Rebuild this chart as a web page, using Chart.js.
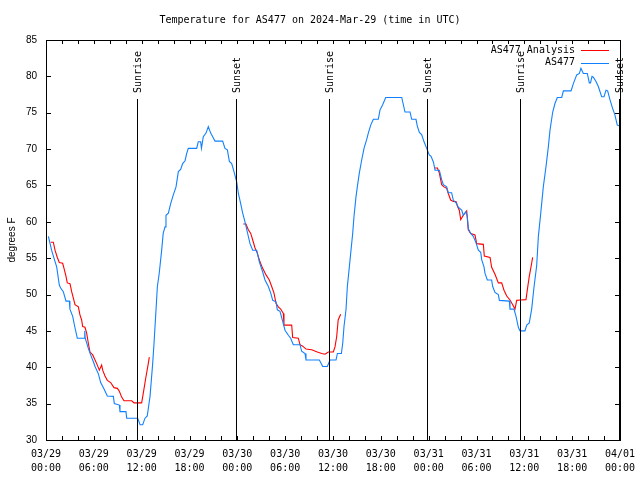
<!DOCTYPE html>
<html>
<head>
<meta charset="utf-8">
<script src="https://cdn.jsdelivr.net/npm/chart.js@4/dist/chart.umd.min.js"></script>
<style>
html,body{margin:0;padding:0;background:#fff;}
canvas{display:block;}
</style>
</head>
<body>
<canvas id="myChart" width="640" height="480"></canvas>
<script>
// 観測値 AS477 (時間は 03/29 00:00 UTC からの経過時間)
const obsHours = [0.3,0.7,1.0,1.34,1.67,1.84,2.17,2.51,2.93,3.0,3.35,3.64,3.93,4.84,4.86,4.92,5.31,5.6,5.93,6.15,6.57,6.86,7.28,7.69,8.45,8.57,9.2,9.28,10.03,10.12,11.5,11.8,12.13,12.42,12.7,13.05,13.38,13.55,13.8,13.97,14.2,14.51,14.7,14.93,15.05,15.35,15.64,15.97,16.31,16.6,16.89,17.14,17.44,17.65,17.85,18.9,19.1,19.4,19.5,19.73,20.07,20.36,20.66,20.91,21.2,22.16,22.45,22.75,23.0,23.29,23.58,23.92,24.13,24.42,24.67,24.96,25.25,25.59,25.93,26.43,26.76,27.18,27.47,27.89,28.19,28.44,28.85,29.02,29.35,29.69,29.98,30.4,30.69,31.02,31.86,32.07,32.49,32.61,34.29,34.71,35.29,35.62,36.38,36.55,37.05,37.22,37.38,37.63,37.8,38.05,38.22,38.47,38.63,38.89,39.05,39.3,39.6,39.89,40.22,40.43,40.73,41.06,41.68,41.9,42.23,42.61,44.62,45.03,45.66,45.87,46.41,46.57,46.83,47.12,47.42,47.75,48.08,48.3,48.6,48.8,49.34,49.63,49.84,50.26,50.46,50.88,51.09,51.51,51.71,52.14,52.34,52.68,52.85,52.97,53.27,53.6,53.94,54.23,54.53,54.65,54.94,55.07,55.36,55.9,56.03,56.32,56.74,56.87,58.12,58.2,58.7,58.96,59.25,59.46,60.08,60.3,60.62,60.92,61.21,61.55,61.76,62.06,62.38,62.72,63.01,63.22,63.56,63.85,64.14,64.69,64.9,65.86,66.15,66.57,66.9,67.1,67.4,67.9,68.15,68.3,68.49,68.65,68.99,69.28,69.7,69.99,70.25,70.45,70.74,71.07,71.36,71.66,71.9,72.0];
const obsTemps = [58.0,56.1,55.0,53.8,51.3,50.9,50.4,49.1,49.1,48.0,47.0,45.4,44.0,44.0,45.0,44.0,42.6,41.7,40.8,40.1,39.1,37.9,37.0,36.05,36.0,35.0,34.8,33.9,33.9,33.0,33.0,32.1,32.1,33.0,33.3,36.0,40.5,43.3,47.9,51.1,52.9,56.1,58.4,59.3,60.9,61.2,62.5,63.7,64.8,66.9,67.2,68.0,68.4,69.4,70.1,70.1,71.0,71.0,70.1,71.7,72.2,73.1,72.2,71.7,71.1,71.1,70.1,69.9,68.3,68.0,66.9,65.5,63.9,62.5,61.2,60.0,58.6,57.0,56.1,56.1,54.5,53.1,52.0,51.1,50.2,49.2,49.0,47.9,47.7,46.3,45.1,44.4,44.0,43.1,43.1,42.2,41.9,41.0,41.0,40.1,40.1,41.0,41.0,41.9,41.9,43.3,45.6,47.9,51.1,53.8,55.7,58.4,60.7,63.5,64.8,66.7,68.5,70.1,71.3,72.2,73.3,74.1,74.1,75.4,76.1,77.1,77.1,75.1,75.1,74.1,74.1,73.2,72.3,72.0,71.0,70.1,69.2,69.0,68.2,67.1,67.1,65.8,65.1,64.8,64.0,64.0,63.0,62.5,62.0,61.6,60.9,61.4,60.7,59.1,58.4,58.0,57.1,56.1,55.8,54.8,53.8,52.9,52.0,52.0,51.1,50.3,50.0,49.2,49.1,48.0,48.0,47.0,45.5,45.0,45.0,45.8,46.1,48.0,51.0,54.0,58.0,61.2,64.8,67.6,70.3,72.6,75.1,76.3,77.1,77.1,78.0,78.0,79.0,80.2,80.4,81.1,80.4,80.4,79.1,79.1,80.0,79.9,79.3,78.6,77.2,77.2,78.1,78.0,76.8,75.6,74.7,73.3,73.2,73.0];

// 解析値 AS477 Analysis (null で線を切る)
const anaHours = [0.59,0.92,1.13,1.42,1.67,2.09,2.26,2.51,2.67,3.01,3.22,3.43,3.64,4.06,4.26,4.47,4.6,4.89,5.1,5.31,5.52,5.86,6.15,6.44,6.69,6.98,7.11,7.4,7.69,8.11,8.53,8.95,9.2,9.49,9.78,10.75,11.04,12.0,12.2,12.54,12.83,12.96,18,24.75,25.08,25.38,25.68,25.93,26.22,26.5,26.84,27.18,27.6,28.01,28.31,28.6,28.85,29.14,29.44,29.77,29.85,30.82,30.94,31.65,31.86,32.2,32.61,33.33,34.03,34.58,35.0,35.41,36.04,36.25,36.46,36.65,36.96,42,48.8,49.1,49.34,49.63,49.92,50.26,50.46,50.76,51.09,51.43,51.59,51.84,52.02,52.34,52.77,52.97,53.27,53.81,54.02,54.86,54.98,55.7,55.9,56.32,56.74,57.16,57.45,57.79,58.2,58.54,58.83,59.04,59.54,60.21,60.37,60.62,60.92,61.04];
const anaTemps = [57.2,57.2,56.1,55.1,54.4,54.3,53.6,52.5,51.6,51.5,50.4,49.5,48.6,48.3,47.2,46.5,45.6,45.5,44.7,43.3,42.1,41.7,41.0,40.3,39.6,40.3,39.6,38.8,38.2,37.9,37.2,37.1,36.7,35.9,35.4,35.4,35.1,35.1,36.4,38.7,40.5,41.4,null,59.7,59.7,58.9,58.4,57.5,56.4,55.7,54.5,53.6,52.7,52.0,51.1,50.2,48.8,48.3,48.0,47.4,45.8,45.8,44.1,44.0,43.1,42.9,42.5,42.4,42.1,41.9,41.8,42.1,42.1,42.8,44.2,46.5,47.3,null,67.4,67.4,66.7,65.1,64.8,64.6,63.9,63.0,62.8,62.8,62.2,61.6,60.3,60.9,61.5,58.9,58.4,58.2,57.0,56.9,55.3,55.1,53.75,52.8,51.6,51.6,50.6,49.8,49.25,48.6,48.0,49.2,49.25,49.3,50.6,52.5,54.3,55.1];

// 日の出・日の入り
const eventHours = [11.47, 23.87, 35.54, 47.83, 59.5, 71.91];
const eventNames = ["Sunrise", "Sunset", "Sunrise", "Sunset", "Sunrise", "Sunset"];

// x軸ラベル (6時間ごと)
const tickDates = ["03/29","03/29","03/29","03/29","03/30","03/30","03/30","03/30","03/31","03/31","03/31","03/31","04/01"];
const tickTimes = ["00:00","06:00","12:00","18:00","00:00","06:00","12:00","18:00","00:00","06:00","12:00","18:00","00:00"];

const mono = "'DejaVu Sans Mono', monospace";
const sans = "'Liberation Sans', Arial, sans-serif";

const toPoints = (hs, vs) => hs.map((h, i) => ({x: h, y: vs[i]}));

// 枠・目盛り・日の出線・凡例
const decorations = {
  id: "decorations",
  afterDatasetsDraw(chart) {
    const {ctx, chartArea: a, scales: {x, y}} = chart;
    ctx.save();
    ctx.strokeStyle = "#000";
    ctx.lineWidth = 1;
    ctx.strokeRect(Math.round(a.left) + 0.5, Math.round(a.top) + 0.5, Math.round(a.right - a.left), Math.round(a.bottom - a.top));

    ctx.beginPath();
    for (let h = 0; h <= 72; h += 2) {
      const px = Math.round(x.getPixelForValue(h)) + 0.5;
      ctx.moveTo(px, a.bottom); ctx.lineTo(px, a.bottom - 4);
      ctx.moveTo(px, a.top); ctx.lineTo(px, a.top + 4);
    }
    for (let v = 30; v <= 85; v += 5) {
      const py = Math.round(y.getPixelForValue(v)) + 0.5;
      ctx.moveTo(a.left, py); ctx.lineTo(a.left + 5, py);
      ctx.moveTo(a.right, py); ctx.lineTo(a.right - 5, py);
    }
    ctx.stroke();

    ctx.font = "10px " + mono;
    ctx.fillStyle = "#000";
    eventHours.forEach((h, i) => {
      const px = Math.round(x.getPixelForValue(h)) + 0.5;
      ctx.beginPath();
      ctx.moveTo(px, a.top + 59);
      ctx.lineTo(px, a.bottom);
      ctx.stroke();
      ctx.save();
      ctx.translate(px + 1, a.top + 53);
      ctx.rotate(-Math.PI / 2);
      ctx.textAlign = "left";
      ctx.textBaseline = "middle";
      ctx.fillText(eventNames[i], 0, 0);
      ctx.restore();
    });

    // 凡例
    ctx.textAlign = "right";
    ctx.textBaseline = "middle";
    chart.data.datasets.forEach((ds, i) => {
      const ly = a.top + 10 + i * 12.5;
      ctx.fillStyle = "#000";
      ctx.fillText(ds.label, a.right - 45, ly);
      ctx.strokeStyle = ds.borderColor;
      ctx.beginPath();
      ctx.moveTo(a.right - 39, Math.round(ly) + 0.5);
      ctx.lineTo(a.right - 11, Math.round(ly) + 0.5);
      ctx.stroke();
    });
    ctx.restore();
  }
};

const ctx = document.getElementById("myChart").getContext("2d");
const myChart = new Chart(ctx, {
  type: "line",
  data: {
    datasets: [
      {
        label: "AS477 Analysis",
        data: toPoints(anaHours, anaTemps),
        borderColor: "rgb(255, 0, 0)",
        borderWidth: 1.1,
        pointRadius: 0,
        spanGaps: false,
        order: 2
      },
      {
        label: "AS477",
        data: toPoints(obsHours, obsTemps),
        borderColor: "rgb(16, 128, 255)",
        borderWidth: 1.1,
        pointRadius: 0,
        order: 1
      }
    ]
  },
  options: {
    responsive: false,
    animation: false,
    devicePixelRatio: 1,
    layout: {padding: {left: 0, right: 20, top: 0, bottom: 0}},
    plugins: {
      legend: {display: false},
      tooltip: {enabled: false},
      title: {
        display: true,
        text: "Temperature for AS477 on 2024-Mar-29 (time in UTC)",
        color: "#000",
        font: {family: mono, size: 10, weight: "normal"},
        padding: {top: 14, bottom: 14}
      }
    },
    scales: {
      x: {
        type: "linear",
        min: 0,
        max: 72,
        afterFit: (s) => { s.height = 40; s.paddingLeft = 0; s.paddingRight = 0; },
        grid: {display: false, drawTicks: false},
        border: {display: false},
        ticks: {
          stepSize: 6,
          autoSkip: false,
          maxRotation: 0,
          padding: 8,
          color: "#000",
          font: {family: mono, size: 10, lineHeight: 1.35},
          callback: (v) => {
            const i = Math.round(v / 6);
            return [tickDates[i], tickTimes[i]];
          }
        }
      },
      y: {
        min: 30,
        max: 85,
        afterFit: (s) => { s.width = 46; },
        grid: {display: false, drawTicks: false},
        border: {display: false},
        ticks: {
          stepSize: 5,
          padding: 9,
          color: "#000",
          font: {family: sans, size: 10}
        },
        title: {
          display: true,
          text: "degrees F",
          color: "#000",
          font: {family: sans, size: 10},
          padding: {top: 6, bottom: 0}
        }
      }
    }
  },
  plugins: [decorations]
});
</script>
</body>
</html>
